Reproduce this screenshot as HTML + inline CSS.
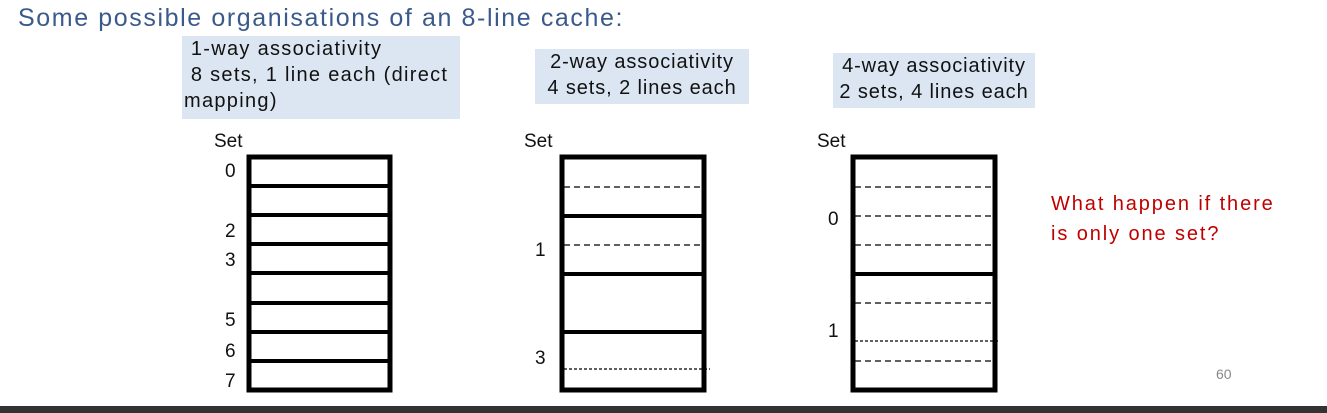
<!DOCTYPE html>
<html><head><style>
body{margin:0;width:1327px;height:413px;position:relative;background:#fff;font-family:"Liberation Sans","DejaVu Sans",sans-serif;overflow:hidden}
.t{position:absolute;white-space:nowrap}
.lb{position:absolute;background:#dce6f2;font-size:20px;line-height:26px;color:#111;letter-spacing:1.3px;white-space:nowrap}
</style></head><body>
<div class="t" style="left:18px;top:4px;font-size:25px;letter-spacing:1.6px;color:#3a5a8c">Some possible organisations of an 8-line cache:</div>
<div class="lb" style="left:182px;top:36px;width:278px;height:83px;padding-left:2px;box-sizing:border-box">&nbsp;1-way associativity<br>&nbsp;8 sets, 1 line each (direct<br>mapping)</div>
<div class="lb" style="left:535px;top:49px;width:214px;height:55px;text-align:center;letter-spacing:0.9px">2-way associativity<br>4 sets, 2 lines each</div>
<div class="lb" style="left:833px;top:53px;width:202px;height:55px;text-align:center;letter-spacing:0.9px">4-way associativity<br>2 sets, 4 lines each</div>
<svg width="1327" height="413" style="position:absolute;left:0;top:0" font-family="Liberation Sans,DejaVu Sans,sans-serif" font-size="19">
<g stroke="#000" fill="none">
<rect x="249" y="157" width="141" height="233" stroke-width="5"/>
<g stroke-width="4"><line x1="249" x2="390" y1="186" y2="186"/><line x1="249" x2="390" y1="215" y2="215"/><line x1="249" x2="390" y1="244" y2="244"/><line x1="249" x2="390" y1="273" y2="273"/><line x1="249" x2="390" y1="303" y2="303"/><line x1="249" x2="390" y1="332" y2="332"/><line x1="249" x2="390" y1="361" y2="361"/></g>
<rect x="562" y="157" width="142" height="233" stroke-width="5"/>
<g stroke-width="4"><line x1="562" x2="704" y1="216" y2="216"/><line x1="562" x2="704" y1="274" y2="274"/><line x1="562" x2="704" y1="332" y2="332"/></g>
<g stroke-width="1.2" stroke-dasharray="6,4"><line x1="564" x2="702" y1="187" y2="187"/><line x1="564" x2="702" y1="245" y2="245"/></g>
<line x1="564" x2="710" y1="369" y2="369" stroke-width="1.2" stroke-dasharray="3,2"/>
<rect x="853" y="157" width="142" height="233" stroke-width="5"/>
<line x1="853" x2="995" y1="274" y2="274" stroke-width="4"/>
<g stroke-width="1.2" stroke-dasharray="6,4"><line x1="855" x2="993" y1="187" y2="187"/><line x1="855" x2="993" y1="216" y2="216"/><line x1="855" x2="993" y1="245" y2="245"/><line x1="855" x2="993" y1="303" y2="303"/><line x1="855" x2="993" y1="361" y2="361"/></g>
<line x1="855" x2="1000" y1="341" y2="341" stroke-width="1.2" stroke-dasharray="3,2"/>
</g>
<g fill="#111">
<text x="214" y="147">Set</text>
<text x="225" y="177">0</text><text x="225" y="237">2</text><text x="225" y="266">3</text><text x="225" y="326">5</text><text x="225" y="357">6</text><text x="225" y="387">7</text>
<text x="524" y="147">Set</text>
<text x="535" y="256">1</text><text x="535" y="364">3</text>
<text x="817" y="147">Set</text>
<text x="828" y="225">0</text><text x="828" y="337">1</text>
</g>
<text x="1051" y="210" fill="#c00000" font-size="20" letter-spacing="1.9">What happen if there</text>
<text x="1051" y="240" fill="#c00000" font-size="20" letter-spacing="1.9">is only one set?</text>
<text x="1216" y="379" fill="#888" font-size="14">60</text>
<rect x="0" y="406" width="1327" height="7" fill="#333"/>
</svg>
</body></html>
